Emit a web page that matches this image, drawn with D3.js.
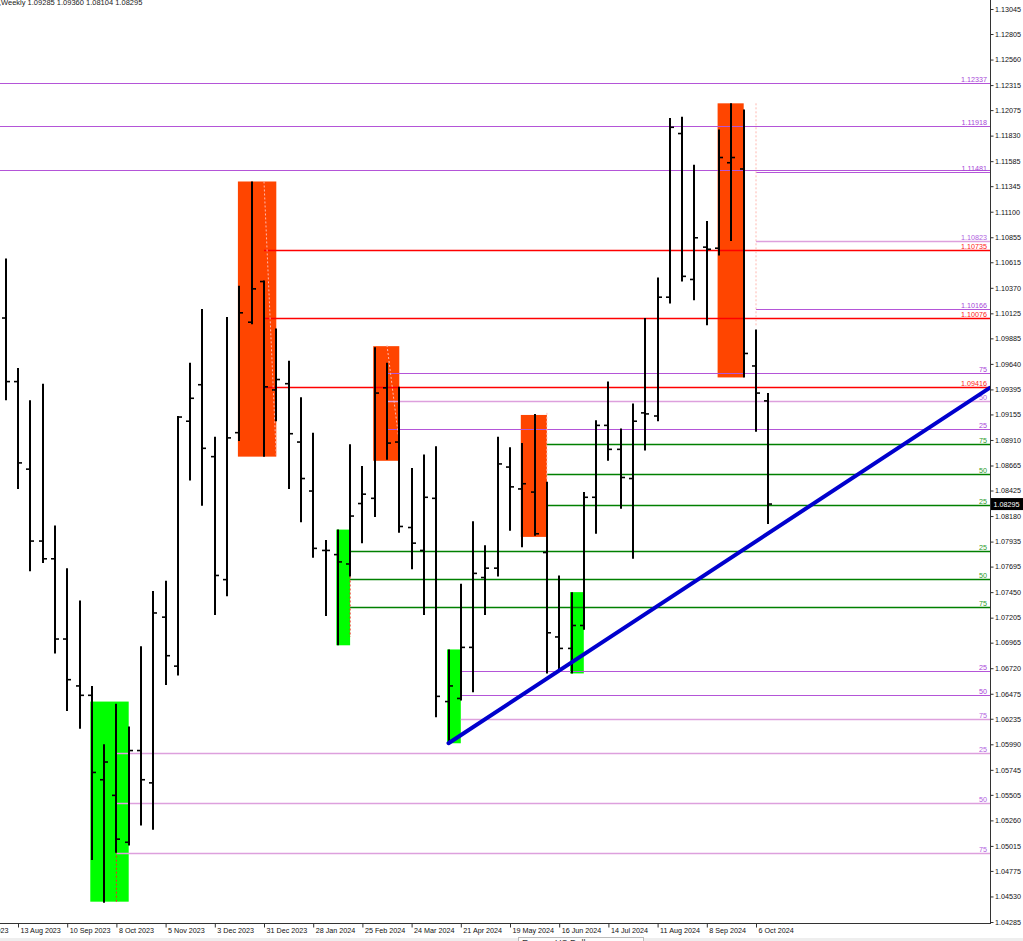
<!DOCTYPE html>
<html>
<head>
<meta charset="utf-8">
<script src="https://cdn.jsdelivr.net/npm/d3@7"></script>
<style>
  body { margin: 0; background: #fff; }
  svg { display: block; font-family: "Liberation Sans", Arial, sans-serif; }
</style>
</head>
<body>
<svg id="chart" width="1023" height="941"></svg>
<script>
// EURUSD weekly bars: week, open, high, low, close
const bars = [
  ["2023-08-06", 1.1008, 1.1065, 1.0929, 1.0947],
  ["2023-08-13", 1.0947, 1.0960, 1.0844, 1.0869],
  ["2023-08-20", 1.0863, 1.0929, 1.0765, 1.0794],
  ["2023-08-27", 1.0794, 1.0945, 1.0773, 1.0777],
  ["2023-09-03", 1.0777, 1.0809, 1.0686, 1.0700],
  ["2023-09-10", 1.0700, 1.0768, 1.0631, 1.0661],
  ["2023-09-17", 1.0655, 1.0737, 1.0614, 1.0646],
  ["2023-09-24", 1.0646, 1.0655, 1.0488, 1.0572],
  ["2023-10-01", 1.0565, 1.0599, 1.0447, 1.0582],
  ["2023-10-08", 1.0550, 1.0638, 1.0495, 1.0508],
  ["2023-10-15", 1.0505, 1.0616, 1.0502, 1.0593],
  ["2023-10-22", 1.0593, 1.0693, 1.0521, 1.0565],
  ["2023-10-29", 1.0562, 1.0746, 1.0517, 1.0725],
  ["2023-11-05", 1.0721, 1.0756, 1.0656, 1.0684],
  ["2023-11-12", 1.0674, 1.0914, 1.0665, 1.0913],
  ["2023-11-19", 1.0909, 1.0965, 1.0852, 1.0931],
  ["2023-11-26", 1.0944, 1.10166, 1.0828, 1.0883],
  ["2023-12-03", 1.0875, 1.0894, 1.0723, 1.0761],
  ["2023-12-10", 1.0757, 1.1009, 1.0741, 1.0893],
  ["2023-12-17", 1.0898, 1.1039, 1.0890, 1.1013],
  ["2023-12-24", 1.1004, 1.1139, 1.1002, 1.1036],
  ["2023-12-31", 1.1043, 1.1044, 1.0875, 1.0942],
  ["2024-01-07", 1.0939, 1.0998, 1.0909, 1.0949],
  ["2024-01-14", 1.0945, 1.0967, 1.0844, 1.0897],
  ["2024-01-21", 1.0889, 1.0932, 1.0812, 1.0854],
  ["2024-01-28", 1.0842, 1.0898, 1.0778, 1.0787],
  ["2024-02-04", 1.0785, 1.0795, 1.0722, 1.0785],
  ["2024-02-11", 1.0781, 1.0805, 1.0694, 1.0774],
  ["2024-02-18", 1.0772, 1.0887, 1.0760, 1.0818],
  ["2024-02-25", 1.0830, 1.0866, 1.0792, 1.0839],
  ["2024-03-03", 1.0835, 1.0980, 1.0817, 1.0936],
  ["2024-03-10", 1.0941, 1.0965, 1.0872, 1.0888],
  ["2024-03-17", 1.0889, 1.0942, 1.0802, 1.0808],
  ["2024-03-24", 1.0807, 1.0864, 1.0767, 1.0792],
  ["2024-03-31", 1.0785, 1.0877, 1.0723, 1.0836],
  ["2024-04-07", 1.0835, 1.0885, 1.0625, 1.0645],
  ["2024-04-14", 1.0640, 1.0690, 1.0600, 1.0655],
  ["2024-04-21", 1.0643, 1.0753, 1.0641, 1.0692],
  ["2024-04-28", 1.0692, 1.0813, 1.0649, 1.0763],
  ["2024-05-05", 1.0759, 1.0790, 1.0723, 1.0768],
  ["2024-05-12", 1.0768, 1.0894, 1.0760, 1.0868],
  ["2024-05-19", 1.0865, 1.0884, 1.0804, 1.0846],
  ["2024-05-26", 1.0844, 1.0888, 1.0788, 1.0849],
  ["2024-06-02", 1.0841, 1.0916, 1.0799, 1.0801],
  ["2024-06-09", 1.0783, 1.0851, 1.0667, 1.0706],
  ["2024-06-16", 1.0702, 1.0761, 1.0669, 1.0691],
  ["2024-06-23", 1.0691, 1.0745, 1.0667, 1.0713],
  ["2024-06-30", 1.0713, 1.0841, 1.0709, 1.0836],
  ["2024-07-07", 1.0836, 1.0910, 1.0801, 1.0905],
  ["2024-07-14", 1.0905, 1.0947, 1.0871, 1.0882],
  ["2024-07-21", 1.0882, 1.0902, 1.0825, 1.0855],
  ["2024-07-28", 1.0854, 1.0926, 1.0777, 1.0909],
  ["2024-08-04", 1.0917, 1.1008, 1.0881, 1.0916],
  ["2024-08-11", 1.0914, 1.1047, 1.0909, 1.1028],
  ["2024-08-18", 1.1028, 1.1200, 1.1022, 1.1191],
  ["2024-08-25", 1.1185, 1.1201, 1.1043, 1.1048],
  ["2024-09-01", 1.1045, 1.1155, 1.1025, 1.1085],
  ["2024-09-08", 1.1076, 1.1101, 1.1001, 1.1074],
  ["2024-09-15", 1.1075, 1.1189, 1.1068, 1.1162],
  ["2024-09-22", 1.1157, 1.1214, 1.1082, 1.1162],
  ["2024-09-29", 1.1151, 1.1208, 1.0951, 1.0974],
  ["2024-10-06", 1.0962, 1.0997, 1.0899, 1.0936],
  ["2024-10-13", 1.09285, 1.09360, 1.08104, 1.08295]
];

const priceTicks = [1.13045, 1.12805, 1.12560, 1.12315, 1.12075, 1.11830, 1.11585, 1.11345,
  1.11100, 1.10855, 1.10615, 1.10370, 1.10125, 1.09885, 1.09640, 1.09395, 1.09155, 1.08910,
  1.08665, 1.08425, 1.08180, 1.07935, 1.07695, 1.07450, 1.07205, 1.06965, 1.06720, 1.06475,
  1.06235, 1.05990, 1.05745, 1.05505, 1.05260, 1.05015, 1.04775, 1.04530, 1.04285];

const dateTicks = ["2023-07-16", "2023-08-13", "2023-09-10", "2023-10-08", "2023-11-05",
  "2023-12-03", "2023-12-31", "2024-01-28", "2024-02-25", "2024-03-24", "2024-04-21",
  "2024-05-19", "2024-06-16", "2024-07-14", "2024-08-11", "2024-09-08", "2024-10-06"];

// supply / demand boxes: first week, last week, top, bottom
const sellZones = [
  ["2023-12-17", "2024-01-07", 1.1139, 1.0875],
  ["2024-03-03", "2024-03-17", 1.0981, 1.0871],
  ["2024-05-26", "2024-06-09", 1.0915, 1.0798],
  ["2024-09-15", "2024-09-29", 1.1214, 1.0951]
];
const buyZones = [
  ["2023-09-24", "2023-10-15", 1.0640, 1.0448],
  ["2024-02-11", "2024-02-18", 1.0805, 1.0694],
  ["2024-04-14", "2024-04-21", 1.0690, 1.0600],
  ["2024-06-23", "2024-06-30", 1.0745, 1.0667]
];

// horizontal levels: start week, price, label
const wideLevels = [[1.12337, "1.12337"], [1.11918, "1.11918"], [1.11500, ""]];
const redLevels = [["2023-12-31", 1.10735, "1.10735"], ["2023-12-31", 1.10076, "1.10076"], ["2023-12-31", 1.09416, "1.09416"]];
const purpleLevels = [
  ["2024-10-06", 1.11481, "1.11481"], ["2024-10-06", 1.10166, "1.10166"],
  ["2024-03-10", 1.0955, "75"], ["2024-03-10", 1.0902, "25"],
  ["2024-04-21", 1.0669, "25"], ["2024-04-21", 1.0646, "50"]
];
const plumLevels = [
  ["2024-10-06", 1.10823, "1.10823"], ["2024-03-10", 1.0928, "50"], ["2024-04-21", 1.0623, "75"],
  ["2023-10-08", 1.0591, "25"], ["2023-10-08", 1.0543, "50"], ["2023-10-08", 1.0495, "75"]
];
const greenLevels = [
  ["2024-06-09", 1.0887, "75"], ["2024-06-09", 1.0858, "50"], ["2024-06-09", 1.0829, "25"],
  ["2024-02-18", 1.0784, "25"], ["2024-02-18", 1.0758, "50"], ["2024-02-18", 1.0731, "75"]
];

// dotted marks inside the boxes: week1, price1, week2, price2
const paleDots = [
  ["2023-12-31", 1.1139, "2024-01-07", 1.0875],
  ["2024-03-10", 1.0982, "2024-03-17", 1.0888],
  ["2024-06-09", 1.0917, "2024-06-09", 1.0853],
  ["2024-10-06", 1.1214, "2024-10-06", 1.0999]
];
const redDots = [
  ["2023-10-08", 1.0496, "2023-10-08", 1.0448],
  ["2024-02-18", 1.0760, "2024-02-18", 1.0702]
];

const trendLine = [["2024-04-14", 1.0600], ["2025-02-16", 1.0941]];
const lastPrice = 1.08295;
const header = ",Weekly  1.09285 1.09360 1.08104 1.08295";

const W = 1023, H = 941, plotR = 990, plotB = 923;
const FS = "7.2px";
const parse = d3.utcParse("%Y-%m-%d");
const fmt = d3.utcFormat("%-d %b %Y");

const x = d3.scaleUtc()
  .domain([parse("2023-08-06"), parse("2024-10-13")])
  .range([5.7, 768.3]);
const y = d3.scaleLinear()
  .domain([1.04285, 1.13045])
  .range([922, 9]);

const svg = d3.select("#chart");
svg.append("rect").attr("width", W).attr("height", H).attr("fill", "#fff");

svg.append("defs").append("clipPath").attr("id", "plot")
  .append("rect").attr("x", 0).attr("y", 0).attr("width", plotR).attr("height", plotB);

const g = svg.append("g").attr("clip-path", "url(#plot)");

// boxes
function zones(list, color) {
  g.selectAll(null).data(list).enter().append("rect")
    .attr("x", d => x(parse(d[0])) - 1.5)
    .attr("y", d => y(d[2]))
    .attr("width", d => x(parse(d[1])) - x(parse(d[0])) + 1.5)
    .attr("height", d => y(d[3]) - y(d[2]))
    .attr("fill", color);
}
zones(sellZones, "#ff4500");
zones(buyZones, "#00ff00");

// levels
function levels(list, color, width, textColor) {
  const sel = g.selectAll(null).data(list).enter();
  sel.append("line")
    .attr("x1", d => d[0] ? x(parse(d[0])) : 0)
    .attr("x2", plotR)
    .attr("y1", d => Math.round(y(d[1])) + 0.5)
    .attr("y2", d => Math.round(y(d[1])) + 0.5)
    .attr("stroke", color).attr("stroke-width", width);
  sel.append("text")
    .attr("x", 987).attr("y", d => Math.round(y(d[1])) - 1.5)
    .attr("text-anchor", "end")
    .attr("font-size", FS)
    .attr("fill", textColor)
    .text(d => d[2]);
}
levels(wideLevels.map(d => [null, d[0], d[1]]), "#b455d8", 1, "#a845d8");
levels(redLevels, "#ff0000", 1.3, "#ff2020");
levels(purpleLevels, "#b455d8", 1, "#a845d8");
levels(plumLevels, "#dda0dd", 1.6, "#b060e0");
levels(greenLevels, "#008000", 1.3, "#2a9a2a");

function dots(list, color) {
  g.selectAll(null).data(list).enter().append("line")
    .attr("x1", d => x(parse(d[0]))).attr("y1", d => y(d[1]))
    .attr("x2", d => x(parse(d[2]))).attr("y2", d => y(d[3]))
    .attr("stroke", color).attr("stroke-width", 1)
    .attr("stroke-dasharray", "2,2");
}
dots(paleDots, "#ffb8b0");
dots(redDots, "#ff2020");

// OHLC bars
const bar = g.selectAll(".bar").data(bars).enter().append("g").attr("class", "bar");
bar.append("line")
  .attr("x1", d => Math.round(x(parse(d[0])))).attr("x2", d => Math.round(x(parse(d[0]))))
  .attr("y1", d => y(d[2])).attr("y2", d => y(d[3]))
  .attr("stroke", "#000").attr("stroke-width", 2);
bar.append("line")
  .attr("x1", d => Math.round(x(parse(d[0]))) - 4).attr("x2", d => Math.round(x(parse(d[0]))))
  .attr("y1", d => y(d[1])).attr("y2", d => y(d[1]))
  .attr("stroke", "#000").attr("stroke-width", 1.6);
bar.append("line")
  .attr("x1", d => Math.round(x(parse(d[0])))).attr("x2", d => Math.round(x(parse(d[0]))) + 4)
  .attr("y1", d => y(d[4])).attr("y2", d => y(d[4]))
  .attr("stroke", "#000").attr("stroke-width", 1.6);

// trend line
g.append("line")
  .attr("x1", x(parse(trendLine[0][0]))).attr("y1", y(trendLine[0][1]))
  .attr("x2", x(parse(trendLine[1][0]))).attr("y2", y(trendLine[1][1]))
  .attr("stroke", "#0000cd").attr("stroke-width", 4).attr("stroke-linecap", "round");

// axes
svg.append("line").attr("x1", plotR + 0.5).attr("x2", plotR + 0.5).attr("y1", 0).attr("y2", plotB + 1)
  .attr("stroke", "#333").attr("stroke-width", 1);
svg.append("line").attr("x1", 0).attr("x2", plotR + 1).attr("y1", plotB + 0.5).attr("y2", plotB + 0.5)
  .attr("stroke", "#333").attr("stroke-width", 1);

const yAxis = d3.axisRight(y).tickValues(priceTicks).tickFormat(d3.format(".5f"))
  .tickSize(3).tickPadding(1.5);
svg.append("g").attr("transform", `translate(${plotR + 0.5},0)`).call(yAxis)
  .call(a => a.select(".domain").remove())
  .call(a => a.selectAll("text").attr("font-size", FS).attr("fill", "#111")
    .attr("font-family", "'Liberation Sans', Arial, sans-serif"))
  .call(a => a.selectAll("line").attr("stroke", "#333"));

const xAxis = d3.axisBottom(x).tickValues(dateTicks.map(parse)).tickFormat(fmt)
  .tickSize(4).tickPadding(2);
svg.append("g").attr("transform", `translate(0,${plotB + 0.5})`).call(xAxis)
  .call(a => a.select(".domain").remove())
  .call(a => a.selectAll("line").attr("stroke", "#333"))
  .call(a => a.selectAll("text").attr("font-size", FS).attr("fill", "#111")
    .attr("text-anchor", "start").attr("dx", "2").attr("dy", "0.45em")
    .attr("font-family", "'Liberation Sans', Arial, sans-serif"));

// current price marker
svg.append("rect").attr("x", plotR + 1).attr("y", y(lastPrice) - 6).attr("width", 32).attr("height", 12)
  .attr("fill", "#000");
svg.append("text").attr("x", plotR + 3.5).attr("y", y(lastPrice) + 2.5)
  .attr("font-size", FS).attr("fill", "#fff").text(d3.format(".5f")(lastPrice));

// header
svg.append("text").attr("x", -1).attr("y", 5).attr("font-size", "7.5px").attr("fill", "#222").text(header);

// bottom strip and clipped tooltip
svg.append("rect").attr("x", 0).attr("y", 938).attr("width", W).attr("height", 3).attr("fill", "#eeeeee");
svg.append("rect").attr("x", 518.5).attr("y", 937.5).attr("width", 125).attr("height", 12)
  .attr("fill", "#fdfdfd").attr("stroke", "#bbb");
svg.append("text").attr("x", 522).attr("y", 946).attr("font-size", "9px").attr("fill", "#333").text("Euro vs US Dollar");
</script>
</body>
</html>
